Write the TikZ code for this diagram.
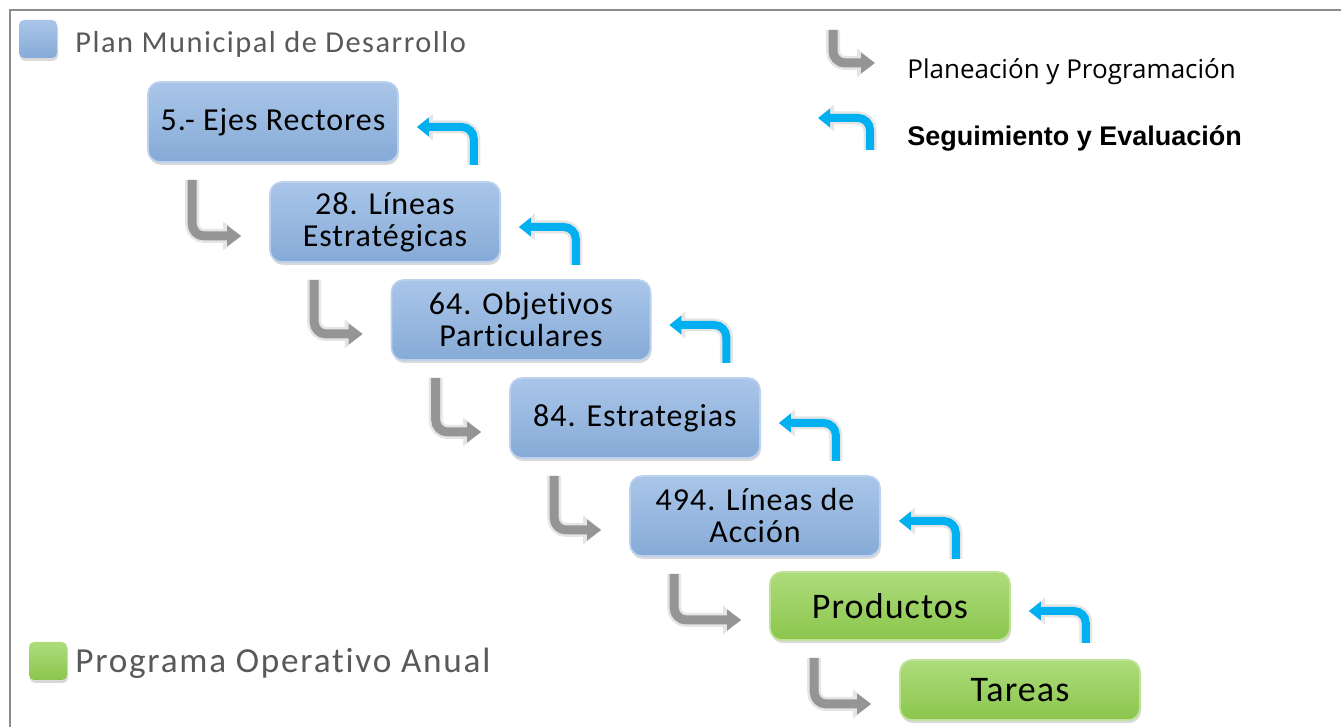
\documentclass[tikz,border=0pt]{standalone}
\usepackage{fontspec}
\setmainfont{Carlito}
\newfontfamily\boxfont[LetterSpace=3,Ligatures=NoCommon]{Carlito}
\newfontfamily\keyfont[LetterSpace=5,Ligatures=NoCommon]{Carlito}
\newfontfamily\notefont{Open Sans}
\newfontfamily\boldfont{Liberation Sans}
\usetikzlibrary{arrows.meta,calc,shadows}
\definecolor{boxblue}{HTML}{8DB3E2}
\definecolor{boxgreen}{HTML}{92D050}
\definecolor{arrowblue}{HTML}{00B0F0}
\definecolor{arrowgray}{HTML}{959595}
\definecolor{keygray}{HTML}{595959}
\definecolor{framegray}{HTML}{8C8C8C}
\begin{document}
\begin{tikzpicture}[x=0.5pt,y=-0.5pt,
block/.style ={rectangle, draw=boxblue!60!white, line width=0.8pt,
  top color=boxblue!75!white, bottom color=boxblue!95!black, rounded corners=6pt,
  minimum width=125pt, minimum height=40pt, align=center,
  font=\boxfont\fontsize{16}{16}\selectfont,
  drop shadow={shadow xshift=0.5pt, shadow yshift=-1.5pt, opacity=0.3}
},
task/.style ={block, draw=boxgreen!60!white,
  top color=boxgreen!75!white, bottom color=boxgreen!95!black,
  minimum width=120pt, font=\boxfont\fontsize{18}{18}\selectfont
},
keybox/.style ={rectangle, rounded corners=2.5pt, minimum size=19pt,
  drop shadow={shadow xshift=0.5pt, shadow yshift=-1.5pt, opacity=0.3}
},
keytext/.style ={anchor=west, text=keygray, inner sep=0pt},
plan/.style ={draw=arrowgray, line width=4.5pt, rounded corners=6pt,
  -{Triangle[length=7pt,width=10pt]},
  preaction={draw=black!10, line width=7pt, -{Triangle[length=9pt,width=14pt]}}
},
track/.style ={draw=arrowblue, line width=4pt, rounded corners=6pt,
  -{Triangle[length=6pt,width=9pt]},
  preaction={draw=black!10, line width=6.5pt, -{Triangle[length=8pt,width=13pt]}}
}]
\useasboundingbox (0,0) rectangle (1341,727);
\draw[framegray, line width=1pt] (10,727) -- (10,10) -- (1341,10);

% legend
\node (kpmd) at (38,39) [keybox, top color=boxblue!75!white, bottom color=boxblue!95!black] {};
\node (tpmd) at (75,44) [keytext, font=\keyfont\fontsize{15.2}{16}\selectfont] {Plan Municipal de Desarrollo};
\node (kpoa) at (48,661) [keybox, top color=boxgreen!75!white, bottom color=boxgreen!95!black] {};
\node (tpoa) at (75,663) [keytext, font=\keyfont\fontsize{17.6}{18}\selectfont] {Programa Operativo Anual};

\coordinate (pa) at (833,30);
\coordinate (pb) at (875,63);
\draw[plan] (pa) |- (pb);
\node (tplan) at (907,72) [anchor=west, inner sep=0pt, font=\notefont\fontsize{13}{13}\selectfont] {Planeación y Programación};
\coordinate (sa) at (870,150);
\coordinate (sb) at (818,118);
\draw[track] (sa) |- (sb);
\node (tseg) at (907,138) [anchor=west, inner sep=0pt, font=\boldfont\bfseries\fontsize{13.5}{13.5}\selectfont] {Seguimiento y Evaluación};

% steps
\node (b1) at (273,122) [block] {5.- Ejes Rectores};
\node (b2) at (385,222) [block, minimum width=115pt] {28. Líneas\\Estratégicas};
\node (b3) at (521,320) [block, minimum width=129.5pt] {64. Objetivos\\Particulares};
\node (b4) at (635,418) [block] {84. Estrategias};
\node (b5) at (755,516) [block] {494. Líneas de\\Acción};
\node (b6) at (890,606) [task, minimum height=34pt] {Productos};
\node (b7) at (1020,690) [task, minimum height=30pt] {Tareas};

\foreach \a/\b in {b1/b2,b2/b3,b3/b4,b4/b5,b5/b6,b6/b7}
  \draw[plan] ($(\a.south west)+(45,17)$) |- ($(\b.west)+(-28,14)$);
\foreach \a in {b1,b2,b3,b4,b5,b6}
  \draw[track] ($(\a.south east)+(75,2)$) |- ($(\a.east)+(18,5)$);
\end{tikzpicture}
\end{document}
